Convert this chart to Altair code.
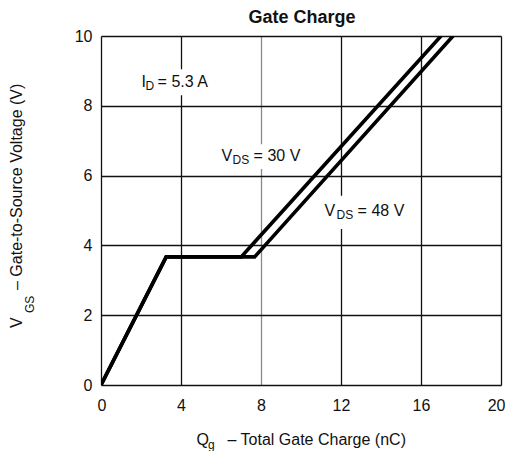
import altair as alt
import pandas as pd

# Curve data
qg_30 = [0.0, 3.26, 7.01, 17.0]
vgs_30 = [0.0, 3.67, 3.67, 10.0]
qg_48 = [0.0, 3.26, 7.68, 17.6]
vgs_48 = [0.0, 3.67, 3.67, 10.0]

x_ticks = [0, 4, 8, 12, 16, 20]
y_ticks = [0, 2, 4, 6, 8, 10]

# Annotation labels: main text, subscript, rest
lab_x = [2.03, 6.03, 11.18]
lab_y = [8.68, 6.56, 4.99]
lab_main = ["I", "V", "V"]
lab_sub = ["D", "DS", "DS"]
lab_rest = ["= 5.3 A", "= 30 V", "= 48 V"]
lab_sub_dx = [4, 11, 12]
lab_rest_dx = [16, 32, 33]
# white boxes behind labels
box_x0 = [1.83, 5.83, 10.98]
box_x1 = [5.80, 10.20, 15.50]
box_y0 = [8.30, 6.19, 4.47]
box_y1 = [9.05, 6.90, 5.42]

FONT = "Liberation Sans"
FS = 16
SUB = 12
INK = "#111111"

df = pd.DataFrame(
    {
        "qg": qg_30 + qg_48,
        "vgs": vgs_30 + vgs_48,
        "series": ["30"] * len(qg_30) + ["48"] * len(qg_48),
        "order": list(range(len(qg_30))) + list(range(len(qg_48))),
    }
)
labels = pd.DataFrame(
    {"x": lab_x, "y": lab_y, "main": lab_main, "sub": lab_sub, "rest": lab_rest}
)
boxes = pd.DataFrame({"x0": box_x0, "x1": box_x1, "y0": box_y0, "y1": box_y1})

xscale = alt.Scale(domain=[0, 20], nice=False)
yscale = alt.Scale(domain=[0, 10], nice=False)

xaxis = alt.Axis(
    values=x_ticks, title=None, grid=True,
    gridColor=alt.condition("datum.value == 8", alt.value("#8a8a8a"), alt.value(INK)),
    gridWidth=1.3, ticks=False, domain=False, labelFont=FONT, labelFontSize=FS,
    labelColor=INK, labelPadding=12, labelFlush=True, labelFlushOffset=4,
)
yaxis = alt.Axis(
    values=y_ticks, title=None, grid=True, gridColor=INK, gridWidth=1.3,
    ticks=False, domain=False, labelFont=FONT, labelFontSize=FS,
    labelColor=INK, labelPadding=9, labelFlush=False,
)

base_lines = alt.Chart(df).mark_line(color="black", strokeWidth=3.6, strokeJoin="miter", clip=True).encode(
    x=alt.X("qg:Q", scale=xscale, axis=xaxis),
    y=alt.Y("vgs:Q", scale=yscale, axis=yaxis),
    detail="series:N",
    order="order:Q",
)

rects = alt.Chart(boxes).mark_rect(color="white").encode(
    x=alt.X("x0:Q", scale=xscale), x2="x1:Q",
    y=alt.Y("y0:Q", scale=yscale), y2="y1:Q",
)

t_main = alt.Chart(labels).mark_text(
    align="left", baseline="middle", font=FONT, fontSize=FS, color=INK
).encode(x=alt.X("x:Q", scale=xscale), y=alt.Y("y:Q", scale=yscale), text="main:N")

sub_layers = []
for i in range(len(lab_x)):
    d = labels.iloc[[i]]
    sub_layers.append(
        alt.Chart(d).mark_text(
            align="left", baseline="middle", font=FONT, fontSize=SUB, color=INK,
            dx=lab_sub_dx[i], dy=4,
        ).encode(x=alt.X("x:Q", scale=xscale), y=alt.Y("y:Q", scale=yscale), text="sub:N")
    )
    sub_layers.append(
        alt.Chart(d).mark_text(
            align="left", baseline="middle", font=FONT, fontSize=FS, color=INK,
            dx=lab_rest_dx[i],
        ).encode(x=alt.X("x:Q", scale=xscale), y=alt.Y("y:Q", scale=yscale), text="rest:N")
    )

# Title and axis titles as text pieces (with subscripts)
one = pd.DataFrame({"k": [0]})
title_t = alt.Chart(one).mark_text(
    align="center", baseline="middle", font=FONT, fontSize=18, fontWeight="bold",
    color=INK, text="Gate Charge"
).encode(x=alt.value(201), y=alt.value(-18))

x_title_main = alt.Chart(one).mark_text(
    align="left", baseline="middle", font=FONT, fontSize=FS, color=INK, text="Q"
).encode(x=alt.value(95.5), y=alt.value(404))
x_title_sub = alt.Chart(one).mark_text(
    align="left", baseline="middle", font=FONT, fontSize=SUB, color=INK, text="g"
).encode(x=alt.value(107), y=alt.value(409))
x_title_rest = alt.Chart(one).mark_text(
    align="left", baseline="middle", font=FONT, fontSize=FS, color=INK,
    text="–  Total Gate Charge (nC)"
).encode(x=alt.value(126.5), y=alt.value(404))

y_title_main = alt.Chart(one).mark_text(
    align="left", baseline="middle", font=FONT, fontSize=FS, color=INK, text="V", angle=270
).encode(x=alt.value(-84), y=alt.value(292))
y_title_sub = alt.Chart(one).mark_text(
    align="left", baseline="middle", font=FONT, fontSize=SUB, color=INK, text="GS", angle=270,
).encode(x=alt.value(-71), y=alt.value(277))
y_title_rest = alt.Chart(one).mark_text(
    align="left", baseline="middle", font=FONT, fontSize=FS, color=INK,
    text="–  Gate-to-Source Voltage (V)", angle=270,
).encode(x=alt.value(-84), y=alt.value(254))

chart = alt.layer(
    rects, base_lines, t_main, *sub_layers, title_t,
    x_title_main, x_title_sub, x_title_rest,
    y_title_main, y_title_sub, y_title_rest,
).properties(
    width=400,
    height=349,
    autosize=alt.AutoSizeParams(type="none"),
    padding={"left": 93, "top": 28, "right": 4, "bottom": 66},
).configure_view(
    stroke=INK, strokeWidth=1.6
).configure(background="white")

chart.save("out.html", embed_options={"renderer": "svg", "actions": False})
